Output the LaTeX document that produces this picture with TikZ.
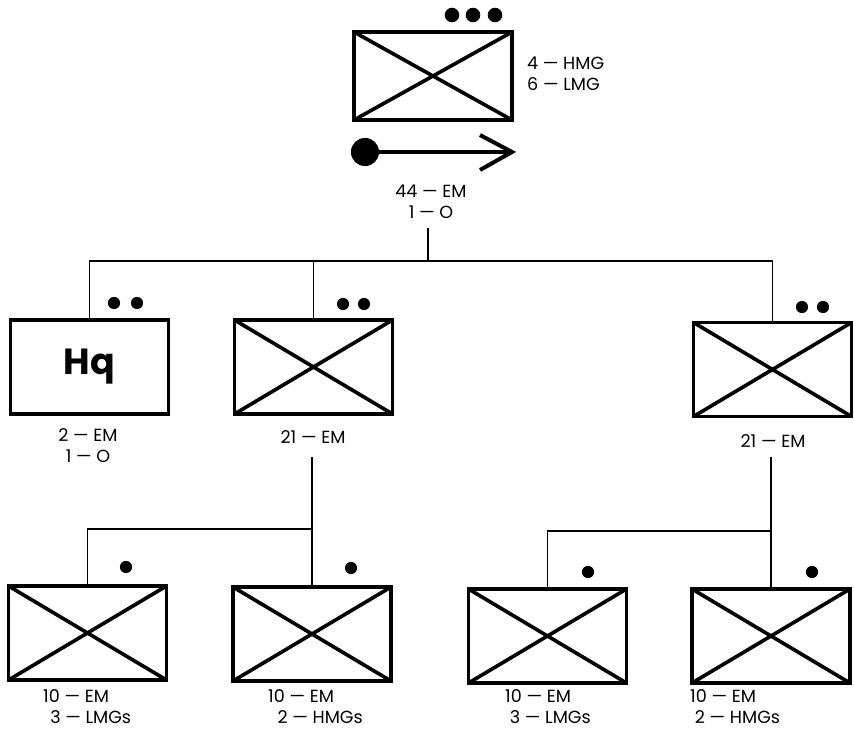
\documentclass[tikz,border=0pt]{standalone}
\usepackage{fontspec}
\setmainfont{Poppins}
\begin{document}
\begin{tikzpicture}[x=0.03cm,y=-0.03cm,
  unitbox/.style={draw, line width=3.3pt, minimum width=4.74cm, minimum height=2.82cm, inner sep=0pt},
  xbox/.style={unitbox, path picture={\draw[line width=3.1pt]
      (path picture bounding box.north west) -- (path picture bounding box.south east)
      (path picture bounding box.south west) -- (path picture bounding box.north east);}},
  link/.style={line width=1.3pt},
  lbl/.style={font=\fontsize{15}{18}\selectfont, align=center, inner sep=0pt},
  lbll/.style={font=\fontsize{15}{18}\selectfont, align=left, inner sep=0pt, anchor=west},
]
\useasboundingbox (0,0) rectangle (854,733);

% boxes
\node[xbox, minimum height=2.64cm] (top) at (433,76) {};
\node[unitbox] (hq) at (89.5,367) {\fontsize{31}{31}\selectfont\bfseries Hq};
\node[xbox] (b2) at (313.5,367) {};
\node[xbox] (rt) at (772.5,369.5) {};
\node[xbox] (bot1) at (87.5,633) {};
\node[xbox] (bot2) at (312,634) {};
\node[xbox] (bot3) at (547.5,636) {};
\node[xbox] (bot4) at (771,636) {};

% dots
\foreach \x in {452,473,495} \fill (\x,15) circle (6.2pt);
\foreach \x in {114,137} \fill (\x,303) circle (5.2pt);
\foreach \x in {343,364} \fill (\x,304) circle (5.2pt);
\foreach \x in {802,823} \fill (\x,307) circle (5.2pt);
\fill (126,567) circle (5.2pt);
\fill (351,568) circle (5.2pt);
\fill (588,572) circle (5.2pt);
\fill (812,572) circle (5.2pt);

% movement arrow
\fill (365,152) circle (12pt);
\draw[line width=3.4pt] (365,152) -- (509,152);
\draw[line width=3.4pt, line join=miter, miter limit=10] (480,135) -- (512,152) -- (480,170);

% labels
\node[lbll] (toprt) at (527,74) {4 — HMG\\6 — LMG};
\node[lbl] (toplbl) at (431,202) {44 — EM\\1 — O};
\node[lbl] (hqlbl) at (88,446) {2 — EM\\1 — O};
\node[lbl] (b2lbl) at (313,437) {21 — EM};
\node[lbl] (rtlbl) at (773,441) {21 — EM};
\node[lbll] (bot1lbl) at (43,707) {10 — EM\\\hspace*{6pt}3 — LMGs};
\node[lbll] (bot2lbl) at (268,707) {10 — EM\\\hspace*{8pt}2 — HMGs};
\node[lbll] (bot3lbl) at (505,707) {10 — EM\\\hspace*{4pt}3 — LMGs};
\node[lbll] (bot4lbl) at (690,707) {10 — EM\\\hspace*{4pt}2 — HMGs};

% connectors
\coordinate (s1) at (428,228);
\coordinate (j1) at (428,261);
\draw[link] (s1) -- (j1);
\draw[link] (hq.north) -- (hq.north |- j1) -- (rt.north |- j1) -- (rt.north);
\draw[link] (b2.north) -- (b2.north |- j1);

\coordinate (s2) at (312,457);
\coordinate (j2) at (312,529);
\draw[link] (s2) -- (bot2.north);
\draw[link] (bot1.north) -- (bot1.north |- j2) -- (j2);

\coordinate (s3) at (771,457);
\coordinate (j3) at (771,531);
\draw[link] (s3) -- (bot4.north);
\draw[link] (bot3.north) -- (bot3.north |- j3) -- (j3);
\end{tikzpicture}
\end{document}
